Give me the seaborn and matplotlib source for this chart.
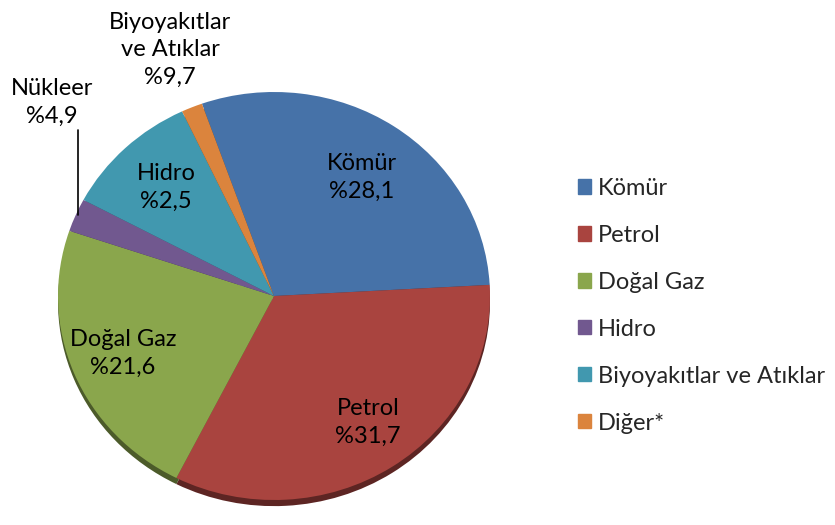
import matplotlib
matplotlib.use("Agg")
import matplotlib.pyplot as plt
import matplotlib.patches as mpatches
import seaborn as sns
import numpy as np

# dilim değerleri (yüzde)
kaynaklar = ["Kömür", "Petrol", "Doğal Gaz", "Hidro", "Biyoyakıtlar ve Atıklar", "Diğer*"]
degerler = [28.1, 31.7, 21.6, 2.5, 9.7, 1.5]
renkler = ["#4672a8", "#a9443f", "#8aa64c", "#71588f", "#4198af", "#db843d"]

# dilim üzerindeki etiketler (orijinal grafikteki gibi)
etiketler = ["Kömür\n%28,1", "Petrol\n%31,7", "Doğal Gaz\n%21,6",
             "Nükleer\n%4,9", "Hidro\n%2,5", "Biyoyakıtlar\nve Atıklar\n%9,7"]

sns.set_theme(style="white")
plt.rcParams['font.family'] = ['Lato', 'DejaVu Sans']

W, H = 835, 525
fig = plt.figure(figsize=(W / 100, H / 100), dpi=100)

# pasta merkezi ve yarıçapı (piksel)
cx, cy, rx, ry = 274, 296, 216, 204
ax = fig.add_axes([(cx - rx) / W, (H - cy - ry) / H, 2 * rx / W, 2 * ry / H])

# alt kenardaki gölge (3B görünüm)
koyu = [tuple(np.array(matplotlib.colors.to_rgb(c)) * 0.55) for c in renkler]
ax.pie(degerler, colors=koyu, startangle=109.5, counterclock=False,
       center=(0, -0.03), radius=1.0, wedgeprops=dict(linewidth=0))
ax.pie(degerler, colors=renkler, startangle=109.5, counterclock=False,
       radius=1.0, wedgeprops=dict(linewidth=0))
ax.set_aspect('auto')
ax.set_xlim(-1, 1)
ax.set_ylim(-1, 1)
ax.axis('off')

# etiket konumları (piksel)
konumlar = [(362, 177), (368, 422), (123, 353), (52, 102), (166, 187), (170, 50)]
for metin, (px, py) in zip(etiketler, konumlar):
    fig.text(px / W, 1 - py / H, metin, ha='center', va='center',
             fontsize=17, linespacing=1.4, color='black')

# Nükleer etiketinin çizgisi
fig.add_artist(plt.Line2D([78 / W, 78 / W], [1 - 130 / H, 1 - 215 / H],
                          color='black', linewidth=1.2))

# lejant
tutamaclar = [mpatches.Patch(color=c, label=k) for c, k in zip(renkler, kaynaklar)]
fig.legend(handles=tutamaclar, loc='upper left', bbox_to_anchor=(566 / W, 1 - 166 / H),
           frameon=False, fontsize=17, handlelength=0.55, handleheight=0.55,
           handletextpad=0.3, labelspacing=1.1, borderpad=0)

fig.savefig("out.png", dpi=100)
